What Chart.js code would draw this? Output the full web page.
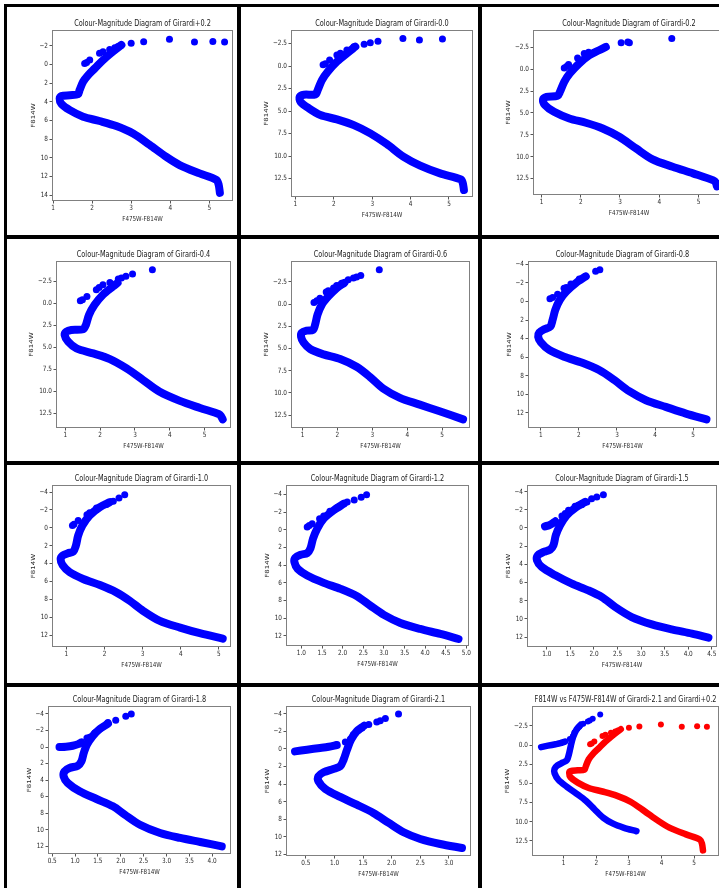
<!DOCTYPE html>
<html>
<head>
<meta charset="utf-8">
<script src="https://cdn.jsdelivr.net/npm/chart.js@4.4.0/dist/chart.umd.min.js"></script>
<style>
  html, body { margin: 0; padding: 0; background: #fff; overflow: hidden; }
  #page { position: relative; width: 719px; height: 888px; overflow: hidden; }
  #page canvas { position: absolute; }
  .rule { position: absolute; background: #000; z-index: 5; }
</style>
</head>
<body>
<div id="page"></div>
<script>
/* ================= DATA (colour F475W-F814W, magnitude F814W) ================= */
const girP02Track = [[5.27,13.75],[5.24,12.9],[5.18,12.35],[4.75,11.66],[4.24,10.77],[3.9,9.9],[3.47,8.6],[3.05,7.4],[2.62,6.6],[2.19,6.06],[1.77,5.6],[1.43,4.9],[1.21,4.2],[1.17,3.64],[1.21,3.4],[1.43,3.3],[1.64,3.2],[1.68,2.75],[1.77,1.85],[1.9,1.14],[2.07,0.43],[2.28,-0.46],[2.53,-1.35],[2.75,-2.07]];
const girP02Dots = [[1.81,-0.1],[1.86,-0.2],[1.94,-0.46],[2.19,-1.18],[2.28,-1.35],[2.45,-1.6],[2.58,-1.78],[2.66,-1.9],[3.0,-2.25],[3.32,-2.42],[3.98,-2.7],[4.62,-2.39],[5.09,-2.46],[5.39,-2.39]];

const girM00Track = [[5.39,13.78],[5.36,13.0],[5.31,12.6],[4.77,11.93],[4.25,11.07],[3.81,10.07],[3.38,8.67],[2.95,7.48],[2.52,6.56],[2.08,5.93],[1.65,5.44],[1.35,4.7],[1.13,3.96],[1.11,3.41],[1.22,3.19],[1.52,3.15],[1.58,2.67],[1.69,1.56],[1.84,0.63],[2.08,-0.48],[2.34,-1.41],[2.56,-2.15]];
const girM00Dots = [[1.72,-0.15],[1.78,-0.25],[1.89,-0.67],[2.08,-1.22],[2.17,-1.41],[2.34,-1.78],[2.52,-2.15],[2.79,-2.41],[2.95,-2.59],[3.15,-2.74],[3.8,-3.07],[4.23,-2.89],[4.83,-3.0]];

const girM02Track = [[5.47,13.4],[5.44,12.95],[5.38,12.7],[4.86,11.9],[4.34,11.14],[3.83,10.3],[3.41,9.05],[2.98,7.72],[2.56,6.77],[2.13,6.12],[1.71,5.63],[1.32,4.87],[1.09,4.1],[1.04,3.46],[1.13,3.16],[1.41,3.04],[1.47,2.59],[1.58,1.44],[1.72,0.49],[1.96,-0.65],[2.22,-1.6],[2.47,-2.17],[2.64,-2.55]];
const girM02Dots = [[1.58,-0.15],[1.64,-0.3],[1.69,-0.53],[1.92,-1.29],[2.09,-1.79],[2.2,-1.95],[3.03,-3.04],[3.2,-3.12],[3.24,-3.02],[4.32,-3.5]];

const girM04Track = [[5.52,13.18],[5.47,12.8],[5.42,12.6],[4.87,11.89],[4.29,11.09],[3.71,10.06],[3.24,8.74],[2.76,7.4],[2.28,6.34],[1.8,5.7],[1.32,5.13],[1.08,4.37],[0.98,3.61],[1.03,3.23],[1.17,3.04],[1.51,2.96],[1.59,2.47],[1.68,1.33],[1.84,0.19],[2.08,-0.95],[2.37,-1.9],[2.5,-2.3]];
const girM04Dots = [[1.43,-0.27],[1.49,-0.38],[1.62,-0.76],[1.89,-1.52],[1.97,-1.79],[2.08,-2.09],[2.28,-2.35],[2.52,-2.73],[2.61,-2.85],[2.74,-3.04],[2.93,-3.3],[3.5,-3.8]];

const girM06Track = [[5.6,12.97],[4.93,12.06],[4.36,11.31],[3.79,10.55],[3.31,9.5],[2.93,8.18],[2.55,7.05],[2.08,6.18],[1.6,5.65],[1.22,5.05],[1.03,4.3],[0.96,3.66],[0.98,3.2],[1.12,2.98],[1.3,2.9],[1.36,2.34],[1.43,1.2],[1.55,0.08],[1.74,-0.87],[1.98,-1.81],[2.2,-2.4]];
const girM06Dots = [[1.33,-0.19],[1.41,-0.38],[1.5,-0.68],[1.68,-1.36],[1.74,-1.51],[1.89,-1.81],[1.98,-2.11],[2.12,-2.37],[2.31,-2.75],[2.46,-2.94],[2.55,-3.05],[2.67,-3.24],[3.2,-3.88]];

const girM08Track = [[5.35,12.71],[4.81,12.09],[4.28,11.37],[3.76,10.65],[3.32,9.68],[2.93,8.48],[2.53,7.4],[2.09,6.61],[1.61,5.96],[1.22,5.23],[1.0,4.4],[0.93,3.79],[0.96,3.36],[1.09,3.0],[1.25,2.71],[1.31,1.99],[1.38,0.9],[1.5,-0.18],[1.67,-1.08],[1.92,-1.99],[2.18,-2.71]];
const girM08Dots = [[1.24,-0.29],[1.31,-0.43],[1.44,-0.79],[1.61,-1.44],[1.67,-1.5],[1.79,-1.88],[2.01,-2.42],[2.18,-2.71],[2.44,-3.25],[2.55,-3.43]];

const girM10Track = [[5.1,12.4],[4.5,11.8],[3.98,11.17],[3.45,10.42],[3.01,9.29],[2.66,8.17],[2.31,7.23],[1.88,6.41],[1.44,5.73],[1.09,4.98],[0.9,4.16],[0.85,3.48],[0.9,3.11],[1.04,2.85],[1.18,2.66],[1.25,1.99],[1.31,0.86],[1.42,-0.26],[1.61,-1.39],[1.88,-2.32],[2.14,-2.88]];
const girM10Dots = [[1.16,-0.26],[1.2,-0.4],[1.31,-0.82],[1.54,-1.46],[1.61,-1.68],[1.79,-2.21],[2.05,-2.62],[2.23,-2.96],[2.38,-3.33],[2.53,-3.71]];

const girM12Track = [[4.81,12.34],[4.37,11.77],[3.88,11.21],[3.4,10.53],[3.0,9.62],[2.67,8.57],[2.35,7.51],[1.95,6.68],[1.54,6.0],[1.14,5.17],[0.91,4.42],[0.83,3.66],[0.85,3.17],[0.98,2.83],[1.14,2.64],[1.22,2.08],[1.28,1.02],[1.38,-0.11],[1.54,-1.25],[1.78,-2.19],[2.03,-2.94]];
const girM12Dots = [[1.14,-0.3],[1.19,-0.49],[1.26,-0.68],[1.44,-1.25],[1.54,-1.55],[1.69,-2.08],[1.86,-2.45],[2.03,-2.94],[2.11,-3.13],[2.28,-3.36],[2.45,-3.66],[2.58,-3.96]];

const girM15Track = [[4.43,12.07],[4.08,11.63],[3.65,11.16],[3.23,10.61],[2.8,9.8],[2.45,8.7],[2.17,7.6],[1.88,6.86],[1.53,6.13],[1.18,5.21],[0.89,4.29],[0.79,3.56],[0.81,3.01],[0.93,2.64],[1.07,2.39],[1.14,1.91],[1.19,0.81],[1.28,-0.29],[1.42,-1.39],[1.6,-2.2],[1.81,-2.86]];
const girM15Branch = [[0.96,-0.18],[1.05,-0.3],[1.12,-0.5],[1.18,-0.73]];
const girM15Dots = [[1.32,-1.32],[1.39,-1.6],[1.46,-1.94],[1.6,-2.39],[1.67,-2.5],[1.74,-2.57],[1.85,-2.86],[1.95,-3.23],[2.06,-3.41],[2.2,-3.67]];

const girM18Track = [[4.21,12.02],[3.74,11.49],[3.3,11.0],[2.86,10.4],[2.42,9.4],[2.09,8.19],[1.83,7.18],[1.47,6.29],[1.1,5.36],[0.84,4.35],[0.75,3.55],[0.77,2.94],[0.88,2.54],[1.06,2.26],[1.14,1.73],[1.19,0.73],[1.26,-0.28],[1.38,-1.29],[1.54,-2.18],[1.72,-2.82]];
const girM18Branch = [[0.66,0.0],[0.8,-0.04],[0.95,-0.15],[1.07,-0.35],[1.14,-0.56]];
const girM18Dots = [[1.26,-1.09],[1.32,-1.17],[1.43,-1.69],[1.54,-2.18],[1.72,-2.98],[1.89,-3.23],[2.11,-3.71],[2.23,-3.99]];

const girM21Track = [[3.23,11.25],[2.85,10.8],[2.5,10.23],[2.21,9.47],[1.95,8.41],[1.68,7.27],[1.39,6.33],[1.1,5.45],[0.84,4.55],[0.72,3.67],[0.72,3.11],[0.81,2.65],[0.98,2.27],[1.1,1.97],[1.16,1.21],[1.22,0.08],[1.29,-1.06],[1.39,-2.01],[1.52,-2.65]];
const girM21Branch = [[0.31,0.27],[0.52,0.08],[0.75,-0.11],[0.9,-0.25],[1.04,-0.45]];
const girM21Dots = [[1.19,-0.8],[1.28,-1.14],[1.33,-1.63],[1.42,-2.12],[1.48,-2.39],[1.6,-2.77],[1.74,-3.07],[1.8,-3.22],[1.89,-3.45],[2.12,-3.98]];

// tick values
const ticksUnit = [1, 2, 3, 4, 5];
const ticksHalf10to50 = [1.0, 1.5, 2.0, 2.5, 3.0, 3.5, 4.0, 4.5, 5.0];
const ticksHalf10to45 = [1.0, 1.5, 2.0, 2.5, 3.0, 3.5, 4.0, 4.5];
const ticksHalf05to40 = [0.5, 1.0, 1.5, 2.0, 2.5, 3.0, 3.5, 4.0];
const ticksHalf05to30 = [0.5, 1.0, 1.5, 2.0, 2.5, 3.0];
const magTicks2 = [-2, 0, 2, 4, 6, 8, 10, 12, 14];
const magTicks25 = [-2.5, 0, 2.5, 5, 7.5, 10, 12.5];
const magTicks4 = [-4, -2, 0, 2, 4, 6, 8, 10, 12];

// axis limits per panel (colour min/max, magnitude top/bottom)
const xLimits = [[1.0,5.58],[0.91,5.6],[0.81,5.65],[0.76,5.73],[0.7,5.77],[0.69,5.6],[0.65,5.29],[0.65,5.04],[0.6,4.59],[0.43,4.39],[0.17,3.37],[0.06,5.73]];
const yLimits = [[-3.57,14.51],[-3.89,14.44],[-4.37,14.26],[-4.67,14.05],[-4.75,13.83],[-4.26,13.54],[-4.68,13.23],[-4.94,13.02],[-4.62,12.99],[-4.84,12.82],[-4.77,12.05],[-4.97,14.35]];

/* ================= LAYOUT ================= */
// plot boxes on the page: left, top, right, bottom
const plotBoxes = [[53,31,232,200],[292,31,472,196],[534,31,724,194],
                   [57,262,230,427],[292,262,469,427],[529,262,716,427],
                   [53,486,230,646],[287,486,468,645],[528,486,716,646],
                   [49,707,230,853],[287,707,470,855],[533,707,718,855]];
const rulesV = [[4,7],[237,241],[478,482]];
const rulesH = [[4,7],[235,239],[461,465],[683,687]];

const FONT = '"DejaVu Sans", sans-serif';
const SQ = 0.8;          // horizontal squeeze of the original picture
const BLUE = '#0000ff', RED = '#ff0000';

const panels = [
  { title: 'Colour-Magnitude Diagram of Girardi+0.2', sets: [[girP02Track, null, girP02Dots, BLUE]], xt: ticksUnit, yt: magTicks2, xd: 0, yd: 0 },
  { title: 'Colour-Magnitude Diagram of Girardi-0.0', sets: [[girM00Track, null, girM00Dots, BLUE]], xt: ticksUnit, yt: magTicks25, xd: 0, yd: 1 },
  { title: 'Colour-Magnitude Diagram of Girardi-0.2', sets: [[girM02Track, null, girM02Dots, BLUE]], xt: ticksUnit, yt: magTicks25, xd: 0, yd: 1 },
  { title: 'Colour-Magnitude Diagram of Girardi-0.4', sets: [[girM04Track, null, girM04Dots, BLUE]], xt: ticksUnit, yt: magTicks25, xd: 0, yd: 1 },
  { title: 'Colour-Magnitude Diagram of Girardi-0.6', sets: [[girM06Track, null, girM06Dots, BLUE]], xt: ticksUnit, yt: magTicks25, xd: 0, yd: 1 },
  { title: 'Colour-Magnitude Diagram of Girardi-0.8', sets: [[girM08Track, null, girM08Dots, BLUE]], xt: ticksUnit, yt: magTicks4, xd: 0, yd: 0 },
  { title: 'Colour-Magnitude Diagram of Girardi-1.0', sets: [[girM10Track, null, girM10Dots, BLUE]], xt: ticksUnit, yt: magTicks4, xd: 0, yd: 0 },
  { title: 'Colour-Magnitude Diagram of Girardi-1.2', sets: [[girM12Track, null, girM12Dots, BLUE]], xt: ticksHalf10to50, yt: magTicks4, xd: 1, yd: 0 },
  { title: 'Colour-Magnitude Diagram of Girardi-1.5', sets: [[girM15Track, girM15Branch, girM15Dots, BLUE]], xt: ticksHalf10to45, yt: magTicks4, xd: 1, yd: 0 },
  { title: 'Colour-Magnitude Diagram of Girardi-1.8', sets: [[girM18Track, girM18Branch, girM18Dots, BLUE]], xt: ticksHalf05to40, yt: magTicks4, xd: 1, yd: 0 },
  { title: 'Colour-Magnitude Diagram of Girardi-2.1', sets: [[girM21Track, girM21Branch, girM21Dots, BLUE]], xt: ticksHalf05to30, yt: magTicks4, xd: 1, yd: 0 },
  { title: 'F814W vs F475W-F814W of Girardi-2.1 and Girardi+0.2', sets: [[girP02Track, null, girP02Dots, RED], [girM21Track, girM21Branch, girM21Dots, BLUE]], xt: ticksUnit, yt: magTicks25, xd: 0, yd: 1, thin: true }
];

/* ================= HELPERS ================= */
const toXY = arr => arr.map(([x, y]) => ({ x, y }));
const fmt = (v, d) => (v < 0 ? '\u2212' : '') + Math.abs(v).toFixed(d);

function drawSq(ctx, text, x, y, align) {
  ctx.save();
  ctx.translate(x, y);
  ctx.scale(SQ, 1);
  ctx.textAlign = align;
  ctx.fillText(text, 0, 0);
  ctx.restore();
}

// matplotlib-like frame, tick labels, axis labels and title
const mplText = {
  id: 'mplText',
  afterDraw(chart, args, opts) {
    const { ctx, chartArea: a, scales: { x, y } } = chart;
    ctx.save();
    ctx.strokeStyle = '#808080';
    ctx.lineWidth = 1;
    ctx.strokeRect(a.left - 0.5, a.top - 0.5, a.right - a.left + 1, a.bottom - a.top + 1);

    ctx.fillStyle = '#2a2a2a';
    ctx.textBaseline = 'middle';
    ctx.font = '7.2px ' + FONT;
    let maxW = 0;
    y.ticks.forEach(t => {
      const s = fmt(t.value, opts.yd);
      maxW = Math.max(maxW, ctx.measureText(s).width * SQ);
      drawSq(ctx, s, a.left - 5, y.getPixelForValue(t.value), 'right');
    });
    x.ticks.forEach(t => drawSq(ctx, fmt(t.value, opts.xd), x.getPixelForValue(t.value), a.bottom + 8.5, 'center'));

    ctx.font = '7px ' + FONT;
    drawSq(ctx, 'F475W-F814W', (a.left + a.right) / 2, a.bottom + 19.5, 'center');
    ctx.save();
    ctx.translate(a.left - 5 - maxW - 6, (a.top + a.bottom) / 2);
    ctx.scale(SQ, 1);
    ctx.rotate(-Math.PI / 2);
    ctx.textAlign = 'center';
    ctx.fillText('F814W', 0, 0);
    ctx.restore();

    ctx.fillStyle = '#1a1a1a';
    ctx.font = '8.2px ' + FONT;
    drawSq(ctx, opts.title, (a.left + a.right) / 2, a.top - 7, 'center');
    ctx.restore();
  }
};

/* ================= BUILD ================= */
const page = document.getElementById('page');

rulesV.forEach(([a, b]) => {
  const d = document.createElement('div');
  d.className = 'rule';
  Object.assign(d.style, { left: a + 'px', top: '4px', width: (b - a) + 'px', height: '884px' });
  page.appendChild(d);
});
rulesH.forEach(([a, b]) => {
  const d = document.createElement('div');
  d.className = 'rule';
  Object.assign(d.style, { left: '4px', top: a + 'px', width: '715px', height: (b - a) + 'px' });
  page.appendChild(d);
});

const PAD_L = 62, PAD_T = 34, PAD_R = 14, PAD_B = 34, AX = 4;

panels.forEach((p, i) => {
  const [L, T, R, B] = plotBoxes[i];
  const cv = document.createElement('canvas');
  const w = R - L + PAD_L + PAD_R, h = B - T + PAD_T + PAD_B;
  cv.width = w; cv.height = h;
  Object.assign(cv.style, { left: (L - PAD_L) + 'px', top: (T - PAD_T) + 'px', width: w + 'px', height: h + 'px' });
  page.appendChild(cv);

  const bw = p.thin ? 6.5 : 8;
  const pr = p.thin ? 3 : 3.5;
  const datasets = [];
  p.sets.forEach(([track, branch, dots, color]) => {
    const line = { showLine: true, borderColor: color, borderWidth: bw, pointRadius: 0, tension: 0.3,
                   borderCapStyle: 'round', borderJoinStyle: 'round' };
    datasets.push({ ...line, data: toXY(track) });
    if (branch) datasets.push({ ...line, data: toXY(branch) });
    datasets.push({ data: toXY(dots), showLine: false, pointRadius: pr, backgroundColor: color, borderWidth: 0 });
  });

  const axisCommon = {
    type: 'linear',
    ticks: { display: false },
    grid: { display: true, drawOnChartArea: false, drawTicks: true, tickLength: 3.5, color: '#555' },
    border: { display: false }
  };

  new Chart(cv, {
    type: 'scatter',
    data: { datasets },
    options: {
      responsive: false,
      animation: false,
      devicePixelRatio: 1,
      events: [],
      layout: { padding: { left: PAD_L - AX, top: PAD_T, right: PAD_R, bottom: PAD_B - AX } },
      plugins: { legend: { display: false }, tooltip: { enabled: false },
                 mplText: { title: p.title, xd: p.xd, yd: p.yd } },
      scales: {
        x: { ...axisCommon, min: xLimits[i][0], max: xLimits[i][1],
             afterBuildTicks: s => { s.ticks = p.xt.map(v => ({ value: v })); },
             afterFit: s => { s.height = AX; } },
        y: { ...axisCommon, reverse: true, min: yLimits[i][0], max: yLimits[i][1],
             afterBuildTicks: s => { s.ticks = p.yt.map(v => ({ value: v })); },
             afterFit: s => { s.width = AX; } }
      }
    },
    plugins: [mplText]
  });
});
</script>
</body>
</html>
